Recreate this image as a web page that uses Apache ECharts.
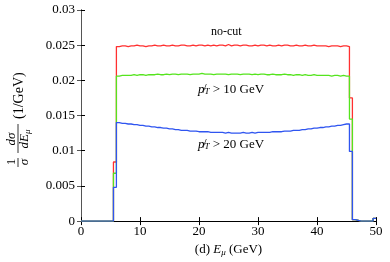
<!DOCTYPE html>
<html>
<head>
<meta charset="utf-8">
<script src="https://cdn.jsdelivr.net/npm/echarts@6/dist/echarts.min.js"></script>
<style>html,body{margin:0;padding:0;background:#fff}#c{width:390px;height:262px}</style>
</head>
<body>
<div id="c"></div>
<script>
// Histogram: bin width 0.5 GeV, bins from 0 to 50 GeV
const binWidth = 0.5;
const xTicks = [0, 10, 20, 30, 40, 50];
const yTicks = [0, 0.005, 0.01, 0.015, 0.02, 0.025, 0.03];
const seriesNames = ['no-cut', 'pT > 10 GeV', 'pT > 20 GeV'];

// 0 - 5.5 GeV (11 bins) empty
const lowZeros = [0,0,0,0,0,0,0,0,0,0,0];
// partial bin 5.5-6.0
const redEdgeLow = 0.0084, greenEdgeLow = 0.0068, blueEdgeLow = 0.0048;
// 6.0 - 45.5 GeV (79 bins)
const redMain = [
0.0248,0.0249,0.0249,0.0248,0.0249,0.0249,0.0250,0.0249,0.0249,0.0248,
0.0249,0.0249,0.0250,0.0249,0.0249,0.0250,0.0249,0.0249,0.0250,0.0249,
0.0249,0.0250,0.0250,0.0249,0.0249,0.0250,0.0249,0.0250,0.0250,0.0249,
0.0250,0.0249,0.0250,0.0249,0.0250,0.0250,0.0249,0.0251,0.0249,0.0250,
0.0250,0.0249,0.0250,0.0250,0.0249,0.0249,0.0250,0.0249,0.0250,0.0250,
0.0249,0.0250,0.0249,0.0249,0.0250,0.0249,0.0250,0.0250,0.0249,0.0249,
0.0250,0.0249,0.0249,0.0250,0.0249,0.0249,0.0250,0.0249,0.0249,0.0249,
0.0249,0.0248,0.0249,0.0249,0.0249,0.0248,0.0249,0.0249,0.0248];
const greenMain = [
0.0206,0.0207,0.0207,0.0207,0.0207,0.0208,0.0207,0.0208,0.0208,0.0207,
0.0208,0.0208,0.0208,0.0209,0.0208,0.0208,0.0209,0.0208,0.0209,0.0209,
0.0208,0.0209,0.0209,0.0209,0.0208,0.0209,0.0209,0.0209,0.0210,0.0209,
0.0209,0.0209,0.0208,0.0209,0.0209,0.0209,0.0209,0.0208,0.0209,0.0209,
0.0209,0.0208,0.0209,0.0209,0.0209,0.0208,0.0209,0.0208,0.0209,0.0209,
0.0208,0.0208,0.0209,0.0208,0.0208,0.0208,0.0209,0.0208,0.0208,0.0207,
0.0208,0.0208,0.0207,0.0208,0.0207,0.0207,0.0208,0.0207,0.0207,0.0207,
0.0207,0.0207,0.0206,0.0207,0.0207,0.0206,0.0207,0.0206,0.0206];
const blueMain = [
0.0140,0.0139,0.0139,0.0138,0.0138,0.0137,0.0137,0.0136,0.0136,0.0135,
0.0135,0.0134,0.0134,0.0133,0.0133,0.0132,0.0132,0.0131,0.0131,0.0130,
0.0130,0.0129,0.0129,0.0129,0.0128,0.0128,0.0128,0.0127,0.0127,0.0127,
0.0127,0.0126,0.0126,0.0126,0.0126,0.0126,0.0125,0.0126,0.0125,0.0125,
0.0125,0.0125,0.0126,0.0125,0.0125,0.0126,0.0125,0.0126,0.0126,0.0126,
0.0126,0.0126,0.0127,0.0127,0.0127,0.0127,0.0128,0.0128,0.0128,0.0129,
0.0129,0.0129,0.0130,0.0130,0.0131,0.0131,0.0132,0.0132,0.0133,0.0133,
0.0134,0.0134,0.0135,0.0135,0.0136,0.0136,0.0137,0.0138,0.0138];
// partial bin 45.5-46.0
const redEdgeHigh = 0.0175, greenEdgeHigh = 0.0145, blueEdgeHigh = 0.0099;
// 46 - 50 GeV (8 bins)
const redTail   = [0.0002,0.0001,0,0,0,0,0,0.0004];
const greenTail = [0.0002,0.0001,0,0,0,0,0,0.0004];
const blueTail  = [0.0002,0.0001,0,0,0,0,0,0.0004];

const redBins   = [...lowZeros, redEdgeLow,   ...redMain,   redEdgeHigh,   ...redTail];
const greenBins = [...lowZeros, greenEdgeLow, ...greenMain, greenEdgeHigh, ...greenTail];
const blueBins  = [...lowZeros, blueEdgeLow,  ...blueMain,  blueEdgeHigh,  ...blueTail];

function toSteps(bins) {
  const pts = bins.map((v, i) => [i * binWidth, v]);
  pts.push([bins.length * binWidth, bins[bins.length - 1]]);
  return pts;
}

const FF = 'Liberation Serif';
const FONT = '"Liberation Serif", serif';
const chart = echarts.init(document.getElementById('c'), null, {renderer: 'canvas'});

function mkSeries(name, bins, color) {
  return {
    name: name, type: 'line', step: 'end', data: toSteps(bins),
    showSymbol: false, symbol: 'none',
    lineStyle: {color: color, width: 1.3},
    xAxisIndex: 0, yAxisIndex: 0, z: 3
  };
}

const tickStyle = {inside: true, length: 4, lineStyle: {color: '#000', width: 1}};
const fmtY = v => v === 0 ? '0' : String(+v.toFixed(3));

chart.setOption({
  animation: false,
  backgroundColor: '#fff',
  textStyle: {fontFamily: FF},
  grid: {left: 81, right: 14, top: 10, bottom: 38, containLabel: false},
  xAxis: [{
    type: 'value', min: xTicks[0], max: xTicks[xTicks.length - 1], interval: 10,
    axisLine: {show: true, lineStyle: {color: '#000', width: 1}},
    axisTick: tickStyle, splitLine: {show: false},
    axisLabel: {color: '#000', fontFamily: FF, fontSize: 13, margin: 4},
    name: '(d) {i|E}{s|μ} (GeV)', nameLocation: 'middle', nameGap: 20,
    nameTextStyle: {color: '#000', fontFamily: FF, fontSize: 13,
      rich: {i: {fontStyle: 'italic', fontFamily: FF, fontSize: 13, color: '#000'},
             s: {fontStyle: 'italic', fontFamily: FF, fontSize: 9, color: '#000', padding: [6, 0, 0, 0]}}}
  }, {
    type: 'value', position: 'top', min: 0, max: 50, interval: 10,
    axisLine: {show: true, lineStyle: {color: '#000', width: 1}},
    axisTick: tickStyle, axisLabel: {show: false}, splitLine: {show: false}
  }],
  yAxis: [{
    type: 'value', min: yTicks[0], max: yTicks[yTicks.length - 1], interval: 0.005,
    axisLine: {show: true, lineStyle: {color: '#000', width: 1}},
    axisTick: tickStyle, splitLine: {show: false},
    axisLabel: {color: '#000', fontFamily: FF, fontSize: 13, margin: 6, formatter: fmtY}
  }, {
    type: 'value', position: 'right', min: 0, max: 0.03, interval: 0.005,
    axisLine: {show: true, lineStyle: {color: '#555', width: 1}},
    axisTick: {inside: true, length: 4, lineStyle: {color: '#555'}},
    axisLabel: {show: false}, splitLine: {show: false}
  }],
  series: [
    mkSeries(seriesNames[0], redBins, '#ff3030'),
    mkSeries(seriesNames[1], greenBins, '#55e41e'),
    mkSeries(seriesNames[2], blueBins, '#2f55f0')
  ],
  graphic: [
    {type: 'text', left: 211, top: 26, style: {text: 'no-cut', font: '12px ' + FONT, fill: '#000'}},
    {type: 'text', left: 198, top: 83, style: {
      text: '{i|p̸}{s|T} > 10 GeV', font: '13px ' + FONT, fill: '#000',
      rich: {i: {fontStyle: 'italic', fontFamily: FF, fontSize: 13}, s: {fontStyle: 'italic', fontFamily: FF, fontSize: 9, padding: [5, 0, 0, 0]}}}},
    {type: 'text', left: 198, top: 138, style: {
      text: '{i|p̸}{s|T} > 20 GeV', font: '13px ' + FONT, fill: '#000',
      rich: {i: {fontStyle: 'italic', fontFamily: FF, fontSize: 13}, s: {fontStyle: 'italic', fontFamily: FF, fontSize: 9, padding: [5, 0, 0, 0]}}}},
    {
      type: 'group', x: 18, y: 167, rotation: Math.PI / 2,
      children: [
        {type: 'text', x: 5, y: -6, style: {text: '1', font: '13px ' + FONT, fill: '#000', align: 'center', verticalAlign: 'middle'}},
        {type: 'line', shape: {x1: 0, y1: 0, x2: 9, y2: 0}, style: {stroke: '#000', lineWidth: 0.8}},
        {type: 'text', x: 5, y: 7, style: {text: 'σ', font: 'italic 13px ' + FONT, fill: '#000', align: 'center', verticalAlign: 'middle'}},
        {type: 'text', x: 28, y: -6, style: {text: 'dσ', font: 'italic 13px ' + FONT, fill: '#000', align: 'center', verticalAlign: 'middle'}},
        {type: 'line', shape: {x1: 14, y1: 0, x2: 43, y2: 0}, style: {stroke: '#000', lineWidth: 0.8}},
        {type: 'text', x: 28, y: 7, style: {
          text: '{i|dE}{s|μ}', font: 'italic 13px ' + FONT, fill: '#000', align: 'center', verticalAlign: 'middle',
          rich: {i: {fontStyle: 'italic', fontFamily: FF, fontSize: 13}, s: {fontStyle: 'italic', fontFamily: FF, fontSize: 9, padding: [6, 0, 0, 0]}}}},
        {type: 'text', x: 48, y: 1, style: {text: '(1/GeV)', font: '14px ' + FONT, fill: '#000', align: 'left', verticalAlign: 'middle'}}
      ]
    }
  ]
});
</script>
</body>
</html>
